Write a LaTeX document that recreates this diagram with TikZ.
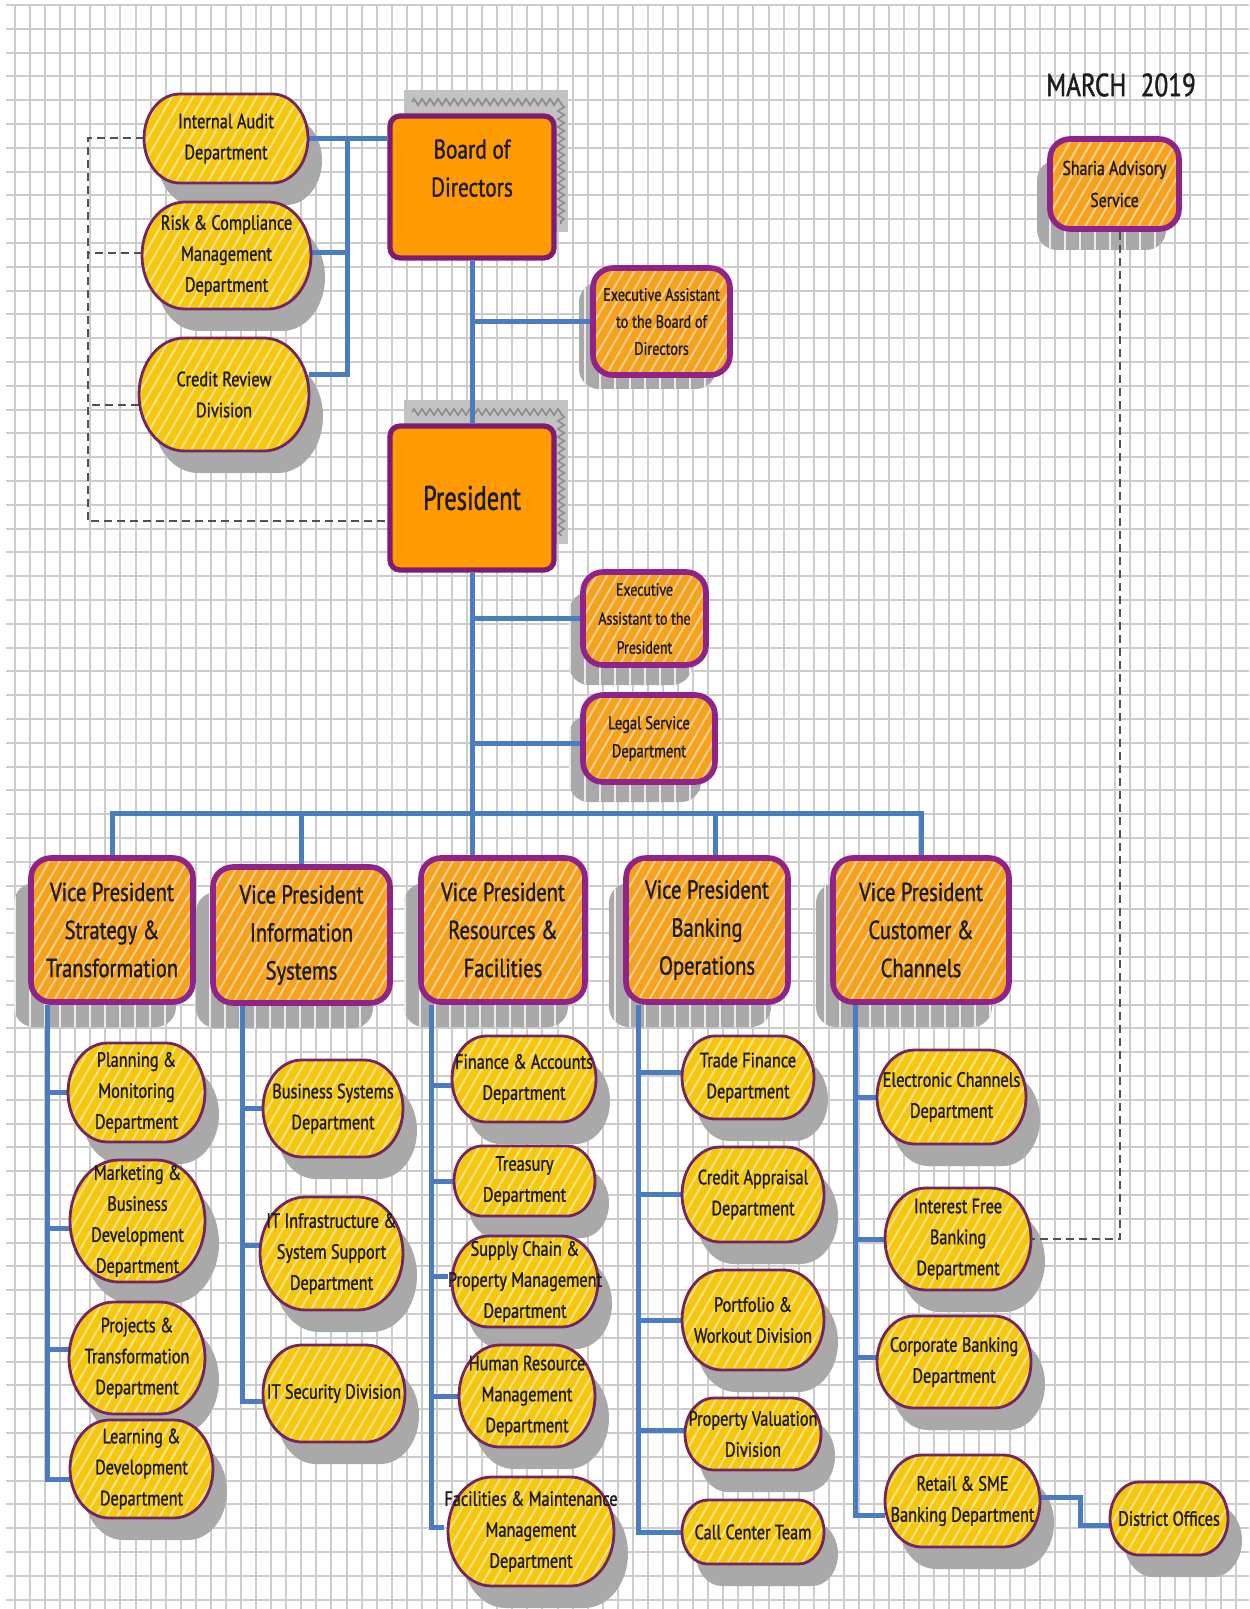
\documentclass[tikz,border=0pt]{standalone}
\usepackage{fontspec}
\setmainfont{PT Sans}[FakeStretch=0.79,FakeBold=1.2]
\newfontfamily\presfont{PT Sans}[FakeStretch=0.72,FakeBold=1.2]
\usetikzlibrary{patterns.meta,decorations.pathmorphing}

\definecolor{capfill}{HTML}{F5C80F}
\definecolor{capstripe}{HTML}{FBE38A}
\definecolor{capborder}{HTML}{74245E}
\definecolor{hfill}{HTML}{F5A21E}
\definecolor{hstripe}{HTML}{FAD08F}
\definecolor{hborder}{HTML}{8F2389}
\definecolor{leadfill}{HTML}{FF9A00}
\definecolor{leadborder}{HTML}{7E1C73}
\definecolor{shadowgray}{HTML}{A9A9A9}
\definecolor{leadshade}{HTML}{C2C2C2}
\definecolor{zigcolor}{HTML}{8C8C8C}
\definecolor{wireblue}{HTML}{4B7CC1}
\definecolor{dashgray}{HTML}{505050}
\definecolor{gridgray}{HTML}{CCCCCC}
\definecolor{textdark}{HTML}{1C1C1C}

\pgfdeclarelayer{gridlayer}
\pgfdeclarelayer{shadowlayer}
\pgfdeclarelayer{wirelayer}
\pgfsetlayers{gridlayer,shadowlayer,wirelayer,main}

\tikzset{
  gridline/.style={draw=gridgray,line width=1pt},
  wire/.style={draw=wireblue,line width=2.5pt},
  dashline/.style={draw=dashgray,line width=1pt,dash pattern=on 4pt off 2.5pt},
  capshade/.style={fill=shadowgray},
  capbody/.style={preaction={fill=capfill},
    pattern={Lines[angle=60,distance=4.6pt,line width=1pt]},pattern color=capstripe,
    draw=capborder,line width=1.4pt},
  captext/.style={font=\fontsize{10.3}{15.5}\selectfont,align=center,inner sep=0pt,
    text=textdark},
  boxshade/.style={rounded corners=10pt,preaction={fill=shadowgray},
    pattern={Lines[angle=90,distance=7.5pt,line width=0.9pt]},pattern color=white!85!gray},
  hatchstyle/.style={rectangle,rounded corners=10pt,preaction={fill=hfill},
    pattern={Lines[angle=60,distance=4.6pt,line width=1pt]},pattern color=hstripe,
    draw=hborder,line width=2.8pt,align=center,inner sep=0pt,text=textdark},
  leadshadow/.style={fill=leadshade},
  zig/.style={draw=zigcolor,line width=0.8pt,decorate,
    decoration={zigzag,segment length=4pt,amplitude=1.6pt}},
  leadstyle/.style={rectangle,rounded corners=5pt,fill=leadfill,draw=leadborder,
    line width=2.6pt,align=center,inner sep=0pt,text=textdark},
}

% capsule: name, cx, cy, width, height, text  (pixel units, y downwards)
\newcommand{\capsulenode}[6]{%
  \begin{pgfonlayer}{shadowlayer}
    \fill[capshade] ({#2-#4/2+0.4*#5+14},{#3-#5/2+22}) -- ({#2+#4/2-0.4*#5+14},{#3-#5/2+22})
      arc[start angle=-90,end angle=90,x radius={0.4*#5},y radius={#5/2}]
      -- ({#2-#4/2+0.4*#5+14},{#3+#5/2+22})
      arc[start angle=90,end angle=270,x radius={0.4*#5},y radius={#5/2}] -- cycle;
  \end{pgfonlayer}
  \path[capbody] ({#2-#4/2+0.4*#5},{#3-#5/2}) -- ({#2+#4/2-0.4*#5},{#3-#5/2})
      arc[start angle=-90,end angle=90,x radius={0.4*#5},y radius={#5/2}]
      -- ({#2-#4/2+0.4*#5},{#3+#5/2})
      arc[start angle=90,end angle=270,x radius={0.4*#5},y radius={#5/2}] -- cycle;
  \node[captext,minimum width={#4*0.5pt},minimum height={#5*0.5pt}] (#1) at (#2,#3) {#6};
}

% hatched box: font, name, cx, cy, width, height, text, shadow dx, shadow dy
\newcommand{\hatchbox}[9]{%
  \begin{pgfonlayer}{shadowlayer}
    \path[boxshade] ({#3-#5/2+#8},{#4-#6/2+#9}) rectangle ++(#5,#6);
  \end{pgfonlayer}
  \node[hatchstyle,font=#1,minimum width={#5*0.5pt},minimum height={#6*0.5pt}] (#2) at (#3,#4) {#7};
}

% solid top box: font, name, cx, cy, width, height, text
\newcommand{\leadbox}[7]{%
  \begin{pgfonlayer}{shadowlayer}
    \path[leadshadow] ({#3-#5/2+14},{#4-#6/2-26}) rectangle ++(#5,#6);
    \draw[zig] ({#3-#5/2+22},{#4-#6/2-14}) -- ({#3+#5/2+7},{#4-#6/2-14})
      -- ({#3+#5/2+7},{#4+#6/2-34});
  \end{pgfonlayer}
  \node[leadstyle,font=#1,minimum width={#5*0.5pt},minimum height={#6*0.5pt}] (#2) at (#3,#4) {#7};
}

\begin{document}
\begin{tikzpicture}[x=0.5pt,y=-0.5pt]
\useasboundingbox (0,0) rectangle (1249,1609);

% squared paper
\begin{pgfonlayer}{gridlayer}
  \fill[white] (0,0) rectangle (1249,1609);
  \foreach \k in {0,...,81} \draw[gridline] ({15+15.07*\k},5) -- ({15+15.07*\k},1609);
  \foreach \k in {0,...,67} \draw[gridline] (6,{5+23.8*\k}) -- (1249,{5+23.8*\k});
\end{pgfonlayer}

\node[font=\fontsize{16}{18}\selectfont,text=textdark] (date) at (1121,85) {MARCH\hspace{0.45em}2019};

% governance
\leadbox{\fontsize{13.5}{19}\selectfont}{board}{472}{187}{164}{142}{Board of\\Directors\\\mbox{}}
\leadbox{\presfont\fontsize{17}{20}\selectfont}{pres}{472}{498}{164}{144}{President}

\capsulenode{ia}{226}{138.5}{164}{89}{Internal Audit\\Department}
\capsulenode{risk}{226.5}{255.5}{169}{107}{Risk \& Compliance\\Management\\Department}
\capsulenode{crd}{224}{394.5}{170}{113}{Credit Review\\Division}

\hatchbox{\fontsize{9}{13.5}\selectfont}{eab}{661.5}{321.5}{137}{107}{Executive Assistant\\to the Board of\\Directors}{-14}{14}
\hatchbox{\fontsize{10}{16}\selectfont}{sharia}{1114.5}{184}{129}{90}{Sharia Advisory\\Service}{-13}{21}
\hatchbox{\fontsize{8.8}{14.5}\selectfont}{eap}{644.5}{618.5}{123}{93}{Executive\\Assistant to the\\President}{-14}{20}
\hatchbox{\fontsize{9.2}{14}\selectfont}{legal}{649}{738.5}{132}{87}{Legal Service\\Department}{-14}{20}

% vice presidents
\hatchbox{\fontsize{13}{19}\selectfont}{vp1}{112}{930}{162}{144}{Vice President\\Strategy \&\\Transformation}{-17}{25}
\hatchbox{\fontsize{13}{19}\selectfont}{vp2}{301.5}{935}{177}{136}{Vice President\\Information\\Systems}{-17}{25}
\hatchbox{\fontsize{13}{19}\selectfont}{vp3}{503}{930}{164}{144}{Vice President\\Resources \&\\Facilities}{-17}{25}
\hatchbox{\fontsize{13}{19}\selectfont}{vp4}{707}{930}{162}{144}{Vice President\\Banking\\Operations}{-17}{25}
\hatchbox{\fontsize{13}{19}\selectfont}{vp5}{921}{930}{176}{144}{Vice President\\Customer \&\\Channels}{-17}{25}

% departments
\capsulenode{plan}{136.5}{1092.5}{137}{99}{Planning \&\\Monitoring\\Department}
\capsulenode{mkt}{137.5}{1221}{135}{122}{Marketing \&\\Business\\Development\\Department}
\capsulenode{proj}{137}{1358}{136}{112}{Projects \&\\Transformation\\Department}
\capsulenode{learn}{141.5}{1469}{143}{98}{Learning \&\\Development\\Department}

\capsulenode{bsys}{333}{1108.5}{140}{97}{Business Systems\\Department}
\capsulenode{itinf}{331.5}{1253.5}{143}{113}{IT Infrastructure \&\\System Support\\Department}
\capsulenode{itsec}{334}{1393.5}{142}{97}{IT Security Division}

\capsulenode{fin}{524}{1079}{144}{86}{Finance \& Accounts\\Department}
\capsulenode{treas}{524.5}{1181}{141}{70}{Treasury\\Department}
\capsulenode{supply}{525}{1281.5}{146}{91}{Supply Chain \&\\Property Management\\Department}
\capsulenode{hr}{527}{1396}{136}{102}{Human Resource\\Management\\Department}
\capsulenode{facil}{531}{1531.5}{166}{109}{Facilities \& Maintenance\\Management\\Department}

\capsulenode{trade}{748}{1077.5}{132}{83}{Trade Finance\\Department}
\capsulenode{capp}{753}{1194.5}{142}{95}{Credit Appraisal\\Department}
\capsulenode{port}{753}{1320}{142}{100}{Portfolio \&\\Workout Division}
\capsulenode{prop}{753}{1434}{136}{72}{Property Valuation\\Division}
\capsulenode{call}{753}{1532}{142}{64}{Call Center Team}

\capsulenode{echan}{951.5}{1097}{149}{94}{Electronic Channels\\Department}
\capsulenode{ifb}{958}{1239}{146}{102}{Interest Free\\Banking\\Department}
\capsulenode{corp}{954}{1362}{154}{92}{Corporate Banking\\Department}
\capsulenode{retail}{962.5}{1501}{155}{92}{Retail \& SME\\Banking Department}
\capsulenode{dist}{1169}{1518.5}{118}{73}{District Offices}

% reporting lines
\begin{pgfonlayer}{wirelayer}
  \draw[wire] (ia.east) -- (ia.east -| board.west);
  \coordinate (tj) at (347,138.5);
  \draw[wire] (tj) |- ([yshift=1.25pt]risk.east);
  \draw[wire] (tj) |- ([yshift=9.75pt]crd.east);
  \draw[wire] (board.south) -- (pres.north);
  \draw[wire] (board.south |- eab.west) -- (eab.west);
  \draw[wire] (pres.south |- eap.west) -- (eap.west);
  \coordinate (legalin) at ([yshift=-2.25pt]legal.west);
  \draw[wire] (pres.south |- legalin) -- (legalin);
  \draw[wire] (pres.south) -- (pres.south |- vp3.north);
  \coordinate (bus) at (472,813);
  \draw[wire] (vp1.north) |- (bus) -| (vp5.north);
  \draw[wire] (vp2.north) -- (vp2.north |- bus);
  \coordinate (vp4top) at ([xshift=4pt]vp4.north);
  \draw[wire] (vp4top) -- (vp4top |- bus);

  \coordinate (s1) at ([xshift=-32.5pt]vp1.south);
  \draw[wire] (s1) |- (plan.west);
  \draw[wire] (s1) |- ([yshift=-3.5pt]mkt.west);
  \draw[wire] (s1) |- ([yshift=4.5pt]proj.west);
  \draw[wire] (s1) |- ([yshift=-5pt]learn.west);

  \coordinate (s2) at ([xshift=-29.75pt]vp2.south);
  \draw[wire] (s2) |- (bsys.west);
  \draw[wire] (s2) |- ([yshift=4.25pt]itinf.west);
  \draw[wire] (s2) |- ([yshift=-3.75pt]itsec.west);

  \coordinate (s3) at ([xshift=-36pt]vp3.south);
  \draw[wire] (s3) |- ([yshift=-3pt]fin.west);
  \draw[wire] (s3) |- (treas.west);
  \draw[wire] (s3) |- ([yshift=2.75pt]supply.west);
  \draw[wire] (s3) |- (hr.west);
  \draw[wire] (s3) |- ([yshift=2.25pt]facil.west);

  \coordinate (s4) at ([xshift=-34.5pt]vp4.south);
  \draw[wire] (s4) |- ([yshift=2.75pt]trade.west);
  \draw[wire] (s4) |- (capp.west);
  \draw[wire] (s4) |- (port.west);
  \draw[wire] (s4) |- ([yshift=2pt]prop.west);
  \draw[wire] (s4) |- (call.west);

  \coordinate (s5) at ([xshift=-33pt]vp5.south);
  \draw[wire] (s5) |- (echan.west);
  \draw[wire] (s5) |- (ifb.west);
  \draw[wire] (s5) |- ([yshift=2.5pt]corp.west);
  \draw[wire] (s5) |- ([yshift=-7pt]retail.west);
  \draw[wire] ([yshift=2pt]retail.east) -- ++(40,0) |- ([yshift=-3.25pt]dist.west);

  % advisory lines
  \draw[dashline] (ia.west) -- ++(-56,0) |- ([yshift=-11.5pt]pres.west);
  \draw[dashline] ([yshift=1.25pt]risk.west) -- ++(-54,0);
  \draw[dashline] ([yshift=-5.25pt]crd.west) -- ++(-51,0);
  \draw[dashline] ([xshift=2.75pt]sharia.south) |- (ifb.east);
\end{pgfonlayer}
\end{tikzpicture}
\end{document}
